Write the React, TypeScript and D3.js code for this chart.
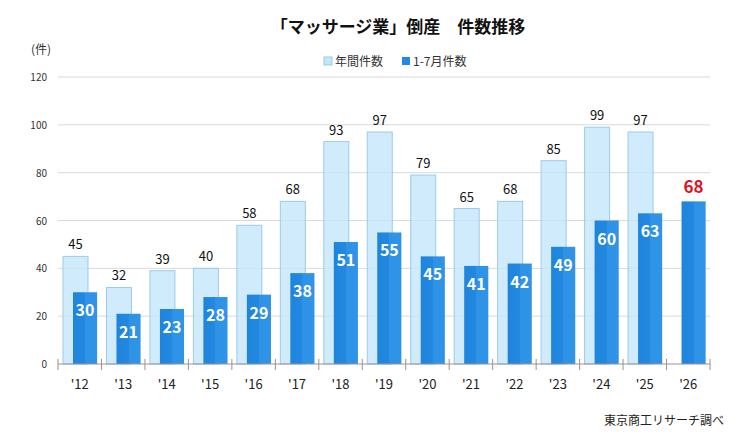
import React, { useEffect, useRef } from 'react';
import * as d3 from 'd3';

const years = ["'12", "'13", "'14", "'15", "'16", "'17", "'18", "'19", "'20", "'21", "'22", "'23", "'24", "'25", "'26"];
const annual: (number | null)[] = [45, 32, 39, 40, 58, 68, 93, 97, 79, 65, 68, 85, 99, 97, null];
const janJul = [30, 21, 23, 28, 29, 38, 51, 55, 45, 41, 42, 49, 60, 63, 68];
const yTicks = [0, 20, 40, 60, 80, 100, 120];

const FONT = "'Noto Sans CJK JP', 'Noto Sans', sans-serif";

const App: React.FC = () => {
  const svgRef = useRef<SVGSVGElement | null>(null);

  useEffect(() => {
    if (!svgRef.current) return;
    const svg = d3.select(svgRef.current);
    svg.selectAll('*').remove();

    const width = 747;
    const height = 445;
    const margin = { top: 77, right: 37, bottom: 81, left: 58 };

    const x = d3.scaleBand()
      .domain(years)
      .range([margin.left, width - margin.right])
      .padding(0);
    const y = d3.scaleLinear()
      .domain([0, 120])
      .range([height - margin.bottom, margin.top]);
    const bw = x.bandwidth();

    // gradient for the dark bars
    const defs = svg.append('defs');
    const grad = defs.append('linearGradient').attr('id', 'darkGrad')
      .attr('x1', '0').attr('x2', '1').attr('y1', '0').attr('y2', '0');
    grad.append('stop').attr('offset', '0%').attr('stop-color', '#1f84dc');
    grad.append('stop').attr('offset', '50%').attr('stop-color', '#2288e0');
    grad.append('stop').attr('offset', '50%').attr('stop-color', '#2e92e6');
    grad.append('stop').attr('offset', '100%').attr('stop-color', '#2f94e8');

    // gridlines
    svg.append('g')
      .selectAll('line')
      .data(yTicks.filter(d => d > 0))
      .join('line')
      .attr('x1', margin.left)
      .attr('x2', width - margin.right)
      .attr('y1', d => y(d))
      .attr('y2', d => y(d))
      .attr('stroke', '#d9d9d9')
      .attr('stroke-width', 1);

    // y labels
    svg.append('g')
      .selectAll('text')
      .data(yTicks)
      .join('text')
      .attr('x', 47)
      .attr('y', d => y(d) + 4)
      .attr('text-anchor', 'end')
      .attr('font-size', 10)
      .attr('fill', '#333')
      .text(d => d);

    svg.append('text')
      .attr('x', 41)
      .attr('y', 54)
      .attr('text-anchor', 'middle')
      .attr('font-size', 12)
      .attr('fill', '#333')
      .text('(件)');

    // annual bars
    const lightX0 = bw * 0.115;
    const lightW = bw * 0.575;
    const annualData = years.map((yr, i) => ({ yr, v: annual[i] })).filter(d => d.v !== null);
    svg.append('g')
      .selectAll('rect')
      .data(annualData)
      .join('rect')
      .attr('x', d => (x(d.yr) as number) + lightX0)
      .attr('y', d => y(d.v as number))
      .attr('width', lightW)
      .attr('height', d => y(0) - y(d.v as number))
      .attr('fill', '#c4e6fa')
      .attr('fill-opacity', 0.8)
      .attr('stroke', '#9ccbe8')
      .attr('stroke-width', 1);

    svg.append('g')
      .selectAll('text')
      .data(annualData)
      .join('text')
      .attr('x', d => (x(d.yr) as number) + lightX0 + lightW / 2)
      .attr('y', d => y(d.v as number) - 7)
      .attr('text-anchor', 'middle')
      .attr('font-size', 13)
      .attr('fill', '#111')
      .text(d => d.v as number);

    // Jan-Jul bars
    const darkX0 = bw * 0.345;
    const darkW = bw * 0.555;
    svg.append('g')
      .selectAll('rect')
      .data(years.map((yr, i) => ({ yr, v: janJul[i] })))
      .join('rect')
      .attr('x', d => (x(d.yr) as number) + darkX0)
      .attr('y', d => y(d.v))
      .attr('width', darkW)
      .attr('height', d => y(0) - y(d.v))
      .attr('fill', 'url(#darkGrad)');

    const last = years.length - 1;
    svg.append('g')
      .selectAll('text')
      .data(years.map((yr, i) => ({ yr, v: janJul[i], i })))
      .join('text')
      .attr('x', d => (x(d.yr) as number) + darkX0 + darkW / 2)
      .attr('y', d => d.i === last ? y(d.v) - 8 : y(d.v) + 24)
      .attr('text-anchor', 'middle')
      .attr('font-size', d => d.i === last ? 17 : 16)
      .attr('font-weight', 'bold')
      .attr('fill', d => d.i === last ? '#e0101e' : '#fff')
      .text(d => d.v);

    // x axis
    const axisY = y(0);
    svg.append('line')
      .attr('x1', margin.left)
      .attr('x2', width - margin.right)
      .attr('y1', axisY)
      .attr('y2', axisY)
      .attr('stroke', '#a09090')
      .attr('stroke-width', 1);

    const tickXs = years.map(yr => x(yr) as number).concat([width - margin.right]);
    svg.append('g')
      .selectAll('line')
      .data(tickXs)
      .join('line')
      .attr('x1', d => d)
      .attr('x2', d => d)
      .attr('y1', axisY - 5)
      .attr('y2', axisY + 6)
      .attr('stroke', '#a09090')
      .attr('stroke-width', 1);

    svg.append('g')
      .selectAll('text')
      .data(years)
      .join('text')
      .attr('x', d => (x(d) as number) + bw / 2)
      .attr('y', axisY + 25)
      .attr('text-anchor', 'middle')
      .attr('font-size', 13)
      .attr('fill', '#222')
      .text(d => d);

    // title
    svg.append('text')
      .attr('x', 398)
      .attr('y', 33)
      .attr('text-anchor', 'middle')
      .attr('font-size', 17)
      .attr('font-weight', 'bold')
      .attr('fill', '#111')
      .text('「マッサージ業」倒産\u3000件数推移');

    // legend
    const legend = svg.append('g').attr('font-size', 12).attr('fill', '#333');
    legend.append('rect').attr('x', 324).attr('y', 57).attr('width', 8).attr('height', 8)
      .attr('fill', '#c4e6fa').attr('stroke', '#9ccbe8');
    legend.append('text').attr('x', 335).attr('y', 66).text('年間件数');
    legend.append('rect').attr('x', 402).attr('y', 57).attr('width', 8).attr('height', 8)
      .attr('fill', '#2288e0');
    legend.append('text').attr('x', 413).attr('y', 66).text('1-7月件数');

    // source
    svg.append('text')
      .attr('x', 724)
      .attr('y', 425)
      .attr('text-anchor', 'end')
      .attr('font-size', 12)
      .attr('fill', '#222')
      .text('東京商工リサーチ調べ');
  }, []);

  return (
    <svg
      ref={svgRef}
      width={747}
      height={445}
      style={{ position: 'absolute', left: 0, top: 0, background: '#fff', fontFamily: FONT }}
    />
  );
};

export default App;
